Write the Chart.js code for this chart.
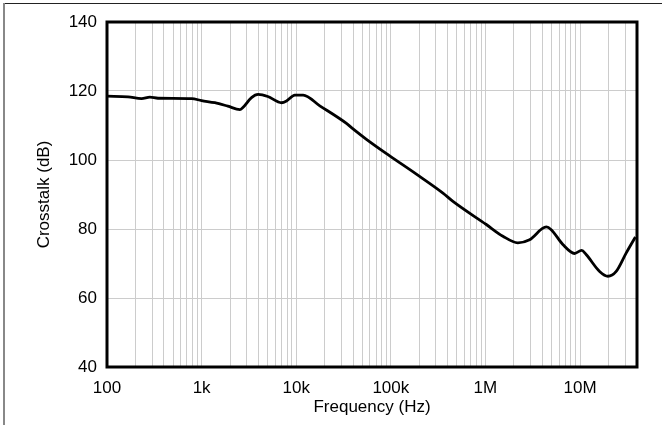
<!DOCTYPE html>
<html>
<head>
<meta charset="utf-8">
<script src="https://cdn.jsdelivr.net/npm/chart.js@4/dist/chart.umd.min.js"></script>
<style>
  html, body { margin: 0; padding: 0; background: #fff; }
  #wrap { position: relative; width: 662px; height: 425px; }
  #edgeTop { position: absolute; left: 3px; top: 3px; width: 659px; height: 1px; background: #222; }
  #edgeLeft { position: absolute; left: 3px; top: 3px; width: 2px; height: 422px; background: #888; }
  canvas { position: absolute; left: 0; top: 0; }
</style>
</head>
<body>
<div id="wrap">
  <canvas id="xtalk" width="662" height="425"></canvas>
  <div id="edgeTop"></div>
  <div id="edgeLeft"></div>
</div>
<script>
// frequency in Hz, crosstalk in dB
var freqs = [100, 167, 232, 284, 346, 784, 1000, 1380, 1895, 2540, 2730, 3370, 3960, 5010, 6990,
  7900, 9670, 11830, 17750, 33960, 38370, 55240, 97300, 186200, 355700, 453600,
  1021000, 1530000, 2200000, 2930000, 4400000, 4960000, 6580000, 8750000, 10400000, 11600000,
  16100000, 19700000, 24100000, 30700000, 38500000];
var crosstalk = [118.5, 118.3, 117.8, 118.2, 117.9, 117.8, 117.2, 116.6, 115.6, 114.6, 115.2, 118.1,
  119.0, 118.4, 116.6, 117.1, 118.8, 118.8, 115.7, 110.6, 109.4, 106.0, 101.2, 95.9,
  90.4, 88.0, 81.3, 77.9, 76.0, 76.9, 80.6, 79.8, 75.5, 72.9, 73.8, 72.6, 67.7, 66.3, 67.7, 73.0, 77.7];

var xMin = 100, xMax = 40000000;
var yTicks = [40, 60, 80, 100, 120, 140];
var decadeLabels = {100: '100', 1000: '1k', 10000: '10k', 100000: '100k', 1000000: '1M', 10000000: '10M'};

var pts = freqs.map(function (f, i) { return {x: f, y: crosstalk[i]}; });
var txtFont = { family: 'Liberation Sans, Arial, sans-serif', size: 17 };

var frame = {
  id: 'frame',
  afterDatasetsDraw: function (chart) {
    var a = chart.chartArea, c = chart.ctx;
    c.save();
    c.strokeStyle = '#000';
    c.lineWidth = 3;
    c.strokeRect(a.left, a.top, a.right - a.left, a.bottom - a.top);
    c.restore();
  }
};

var ctx = document.getElementById('xtalk').getContext('2d');
var chart = new Chart(ctx, {
  type: 'line',
  data: {
    datasets: [{
      data: pts,
      borderColor: '#000',
      borderWidth: 2.8,
      pointRadius: 0,
      fill: false,
      cubicInterpolationMode: 'monotone'
    }]
  },
  options: {
    responsive: false,
    animation: false,
    layout: { padding: { top: 22, right: 25, left: 0, bottom: 0 } },
    plugins: { legend: { display: false }, tooltip: { enabled: false } },
    scales: {
      x: {
        type: 'logarithmic',
        min: xMin,
        max: xMax,
        afterBuildTicks: function (scale) {
          var t = [];
          for (var d = 100; d <= xMax; d *= 10) {
            for (var m = 1; m < 10; m++) {
              var v = d * m;
              if (v <= xMax) t.push({value: v});
            }
          }
          scale.ticks = t;
        },
        afterFit: function (scale) { scale.height = 58; },
        grid: { color: '#cccccc', lineWidth: 1, drawTicks: false },
        border: { display: false },
        ticks: {
          autoSkip: false,
          maxRotation: 0,
          padding: 11,
          color: '#000',
          font: txtFont,
          callback: function (v) { return decadeLabels[v] || ''; }
        },
        title: {
          display: true,
          text: 'Frequency (Hz)',
          color: '#000',
          font: txtFont,
          padding: { top: 0, bottom: 7 }
        }
      },
      y: {
        min: 40,
        max: 140,
        afterBuildTicks: function (scale) {
          scale.ticks = yTicks.map(function (v) { return {value: v}; });
        },
        afterFit: function (scale) { scale.width = 107; },
        grid: { color: '#cccccc', lineWidth: 1, drawTicks: false },
        border: { display: false },
        ticks: {
          padding: 10,
          color: '#000',
          font: txtFont
        },
        title: {
          display: true,
          text: 'Crosstalk (dB)',
          color: '#000',
          font: txtFont,
          padding: { top: 34, bottom: 0 }
        }
      }
    }
  },
  plugins: [frame]
});
</script>
</body>
</html>
